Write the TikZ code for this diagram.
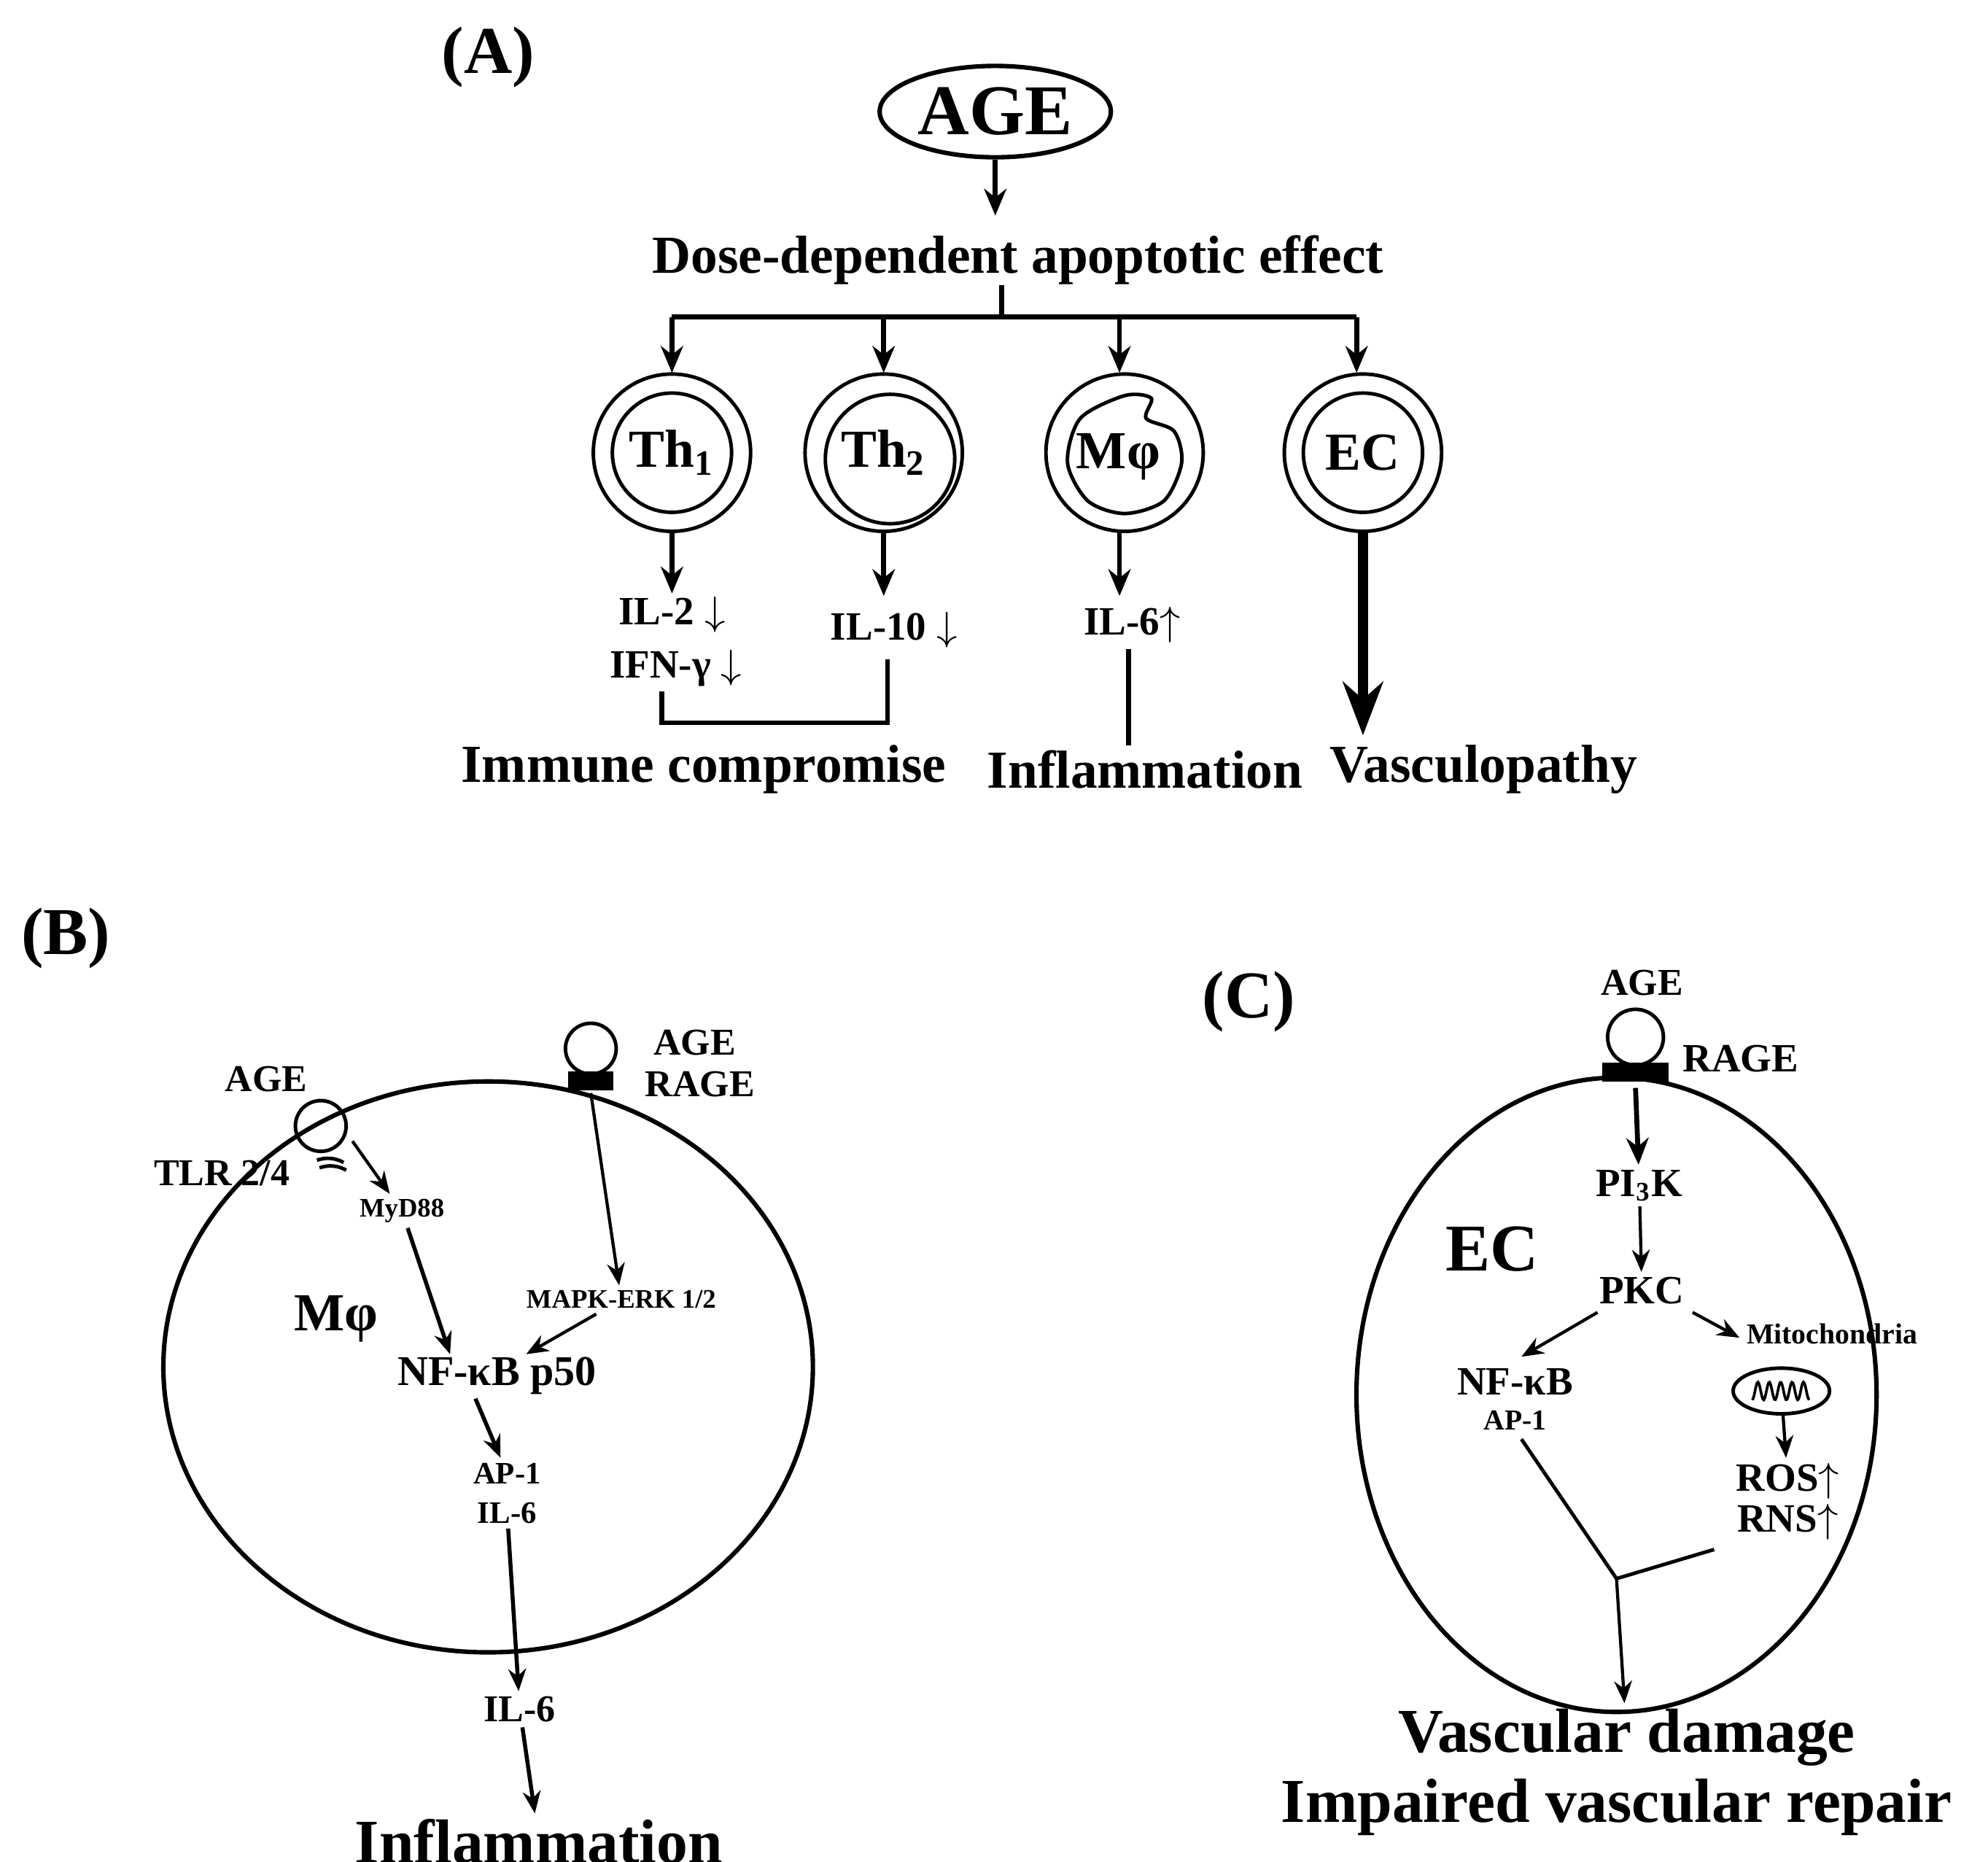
\documentclass[tikz,border=0pt]{standalone}
\usepackage{fontspec}
\setmainfont{Liberation Serif}
\usetikzlibrary{arrows.meta,shapes.geometric}
\begin{document}
\begin{tikzpicture}[x=0.01cm,y=-0.01cm,
  txt/.style={font=\bfseries\fontsize{#1}{#1}\selectfont,inner sep=1pt},
  txt/.default=12,
  arr/.style={-{Stealth[length=6pt,width=5pt]},line width=1.1pt},
  thin arr/.style={-{Stealth[length=5pt,width=4pt]},line width=0.7pt},
  ln/.style={line width=1.1pt},
  cell/.style={circle,draw,line width=0.8pt,minimum size=1.24cm}]
\useasboundingbox (0,0) rectangle (1568,1468);

% ---------------- (A)
\node[txt=15] (la) at (385,45) {(A)};
\node[ellipse,draw,line width=1pt,minimum width=1.8cm,minimum height=0.72cm,
      txt=16] (age) at (785,88) {AGE};
\node[txt=12] (dose) at (803,205) {Dose-dependent apoptotic effect};
\coordinate (split) at (790,250);
\draw[arr] (age) -- (785,170);
\draw[ln] (790,225) -- (split);
\draw[ln] (530,250) -- (1070,250);
\foreach \x in {530,697,883,1070}
  \draw[arr] (\x,250) -- (\x,294);

\node[cell] (th1) at (530,357) {};
\draw[line width=0.8pt] (th1) circle (0.47cm);
\node[txt=12] at (th1) {Th\textsubscript{1}};
\node[cell] (th2) at (697,357) {};
\draw[line width=0.8pt] (702,362) circle (0.51cm);
\node[txt=12] at (th2) {Th\textsubscript{2}};
\node[cell] (mp) at (887,357) {};
\draw[line width=0.8pt] plot[smooth cycle] coordinates
  {(887,312) (908,314) (904,330) (926,340) (932,365) (918,395) (887,405)
   (858,395) (842,365) (852,330)};
\node[txt=12] at (882,360) {Mφ};
\node[cell] (ec) at (1075,357) {};
\draw[line width=0.8pt] (ec) circle (0.47cm);
\node[txt=12] at (ec) {EC};

\node[txt=9] (il2) at (530,485) {IL-2 $\downarrow$};
\node[txt=9] (ifn) at (533,527) {IFN-γ $\downarrow$};
\node[txt=9] (il10) at (705,497) {IL-10 $\downarrow$};
\node[txt=9] (il6a) at (893,493) {IL-6$\uparrow$};
\draw[arr] (530,420) -- (530,468);
\draw[arr] (697,420) -- (697,470);
\draw[arr] (883,420) -- (883,470);
\draw[-{Stealth[length=12pt,width=9pt]},line width=2.2pt] (ec) -- (1075,580);
\draw[ln] (522,545) -- (522,570) -- (700,570) -- (700,520);
\draw[ln] (890,512) -- (890,588);
\node[txt=12] (imm) at (555,607) {Immune compromise};
\node[txt=12] (infl) at (903,607) {Inflammation};
\node[txt=12] (vasc) at (1170,607) {Vasculopathy};

% ---------------- (B)
\node[txt=15] (lb) at (52,740) {(B)};
\draw[line width=1pt] (385,1078) ellipse (2.56cm and 2.25cm);
\draw[line width=0.8pt] (466,827) circle (0.2cm);
\fill (448,845) rectangle (484,860);
\node[txt=8.5] (bage) at (548,822) {AGE};
\node[txt=8.5] (brage) at (552,855) {RAGE};
\node[txt=8.5] (tage) at (210,851) {AGE};
\draw[line width=0.8pt] (253,888) circle (0.2cm);
\draw[line width=0.8pt] (250,915) arc (250:300:25);
\draw[line width=0.8pt] (252,921) arc (250:300:25);
\node[txt=8.5] (tlr) at (175,925) {TLR 2/4};
\node[txt=6] (myd) at (317,955) {MyD88};
\draw[thin arr] (278,900) -- (myd);
\node[txt=6] (mapk) at (490,1025) {MAPK-ERK 1/2};
\draw[thin arr] (466,862) -- (mapk);
\node[txt=12] (bmp) at (265,1040) {Mφ};
\node[txt=9.5] (nfb) at (392,1085) {NF-κB p50};
\draw[thin arr,line width=0.9pt] (myd) -- (355,1068);
\draw[thin arr] (mapk) -- (415,1068);
\node[txt=7] (ap1) at (400,1162) {AP-1};
\node[txt=7] (il6b) at (400,1193) {IL-6};
\draw[thin arr,line width=0.9pt] (375,1103) -- (ap1);
\node[txt=8.5] (il6c) at (410,1348) {IL-6};
\draw[thin arr,line width=0.9pt] (il6b) -- (il6c);
\node[txt=14] (binfl) at (425,1452) {Inflammation};
\draw[thin arr,line width=0.9pt] (il6c) -- (binfl);

% ---------------- (C)
\node[txt=15] (lc) at (985,790) {(C)};
\draw[line width=1pt] (1275,1100) ellipse (2.05cm and 2.5cm);
\draw[line width=0.8pt] (1290,818) circle (0.22cm);
\fill (1264,838) rectangle (1316,853);
\node[txt=8.5] (cage) at (1295,775) {AGE};
\node[txt=9] (crage) at (1373,835) {RAGE};
\node[txt=9] (pi3k) at (1293,935) {PI\textsubscript{3}K};
\draw[arr] (1290,858) -- (pi3k);
\node[txt=15] (cec) at (1177,985) {EC};
\node[txt=9] (pkc) at (1295,1018) {PKC};
\draw[thin arr] (pi3k) -- (pkc);
\node[txt=9] (nfc) at (1195,1090) {NF-κB};
\node[txt=6.5] (ap1c) at (1195,1120) {AP-1};
\node[txt=6.5] (mito) at (1445,1052) {Mitochondria};
\draw[thin arr] (1260,1035) -- (1200,1070);
\draw[thin arr] (1335,1035) -- (1372,1055);
\node[ellipse,draw,line width=0.8pt,minimum width=0.76cm,minimum height=0.36cm]
  (mell) at (1405,1097) {};
\draw[line width=0.6pt,domain=0:5,samples=60] plot ({1382+9*\x},{1097+7*cos(\x*360)});
\node[txt=9] (ros) at (1410,1168) {ROS$\uparrow$};
\node[txt=9] (rns) at (1410,1200) {RNS$\uparrow$};
\draw[thin arr] (mell) -- (ros);
\coordinate (join) at (1275,1245);
\draw[line width=0.8pt] (1200,1135) -- (join) -- (1352,1222);
\node[txt=14] (vd) at (1283,1370) {Vascular damage};
\node[txt=14] (ivr) at (1275,1425) {Impaired vascular repair};
\draw[thin arr] (join) -- (vd);
\end{tikzpicture}
\end{document}
